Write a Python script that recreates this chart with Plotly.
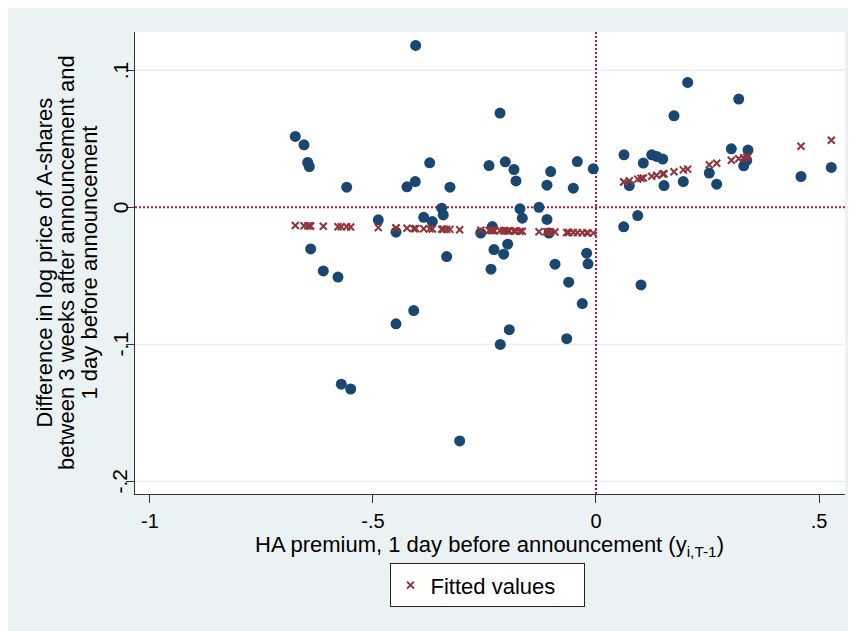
import plotly.graph_objects as go

# HA premium (x) and change in log A-share price (y) for each event
x_vals = [-0.4043, -0.6742, -0.6547, -0.6464, -0.6428, -0.5590, -0.4238, -0.4052, -0.3729, -0.3274,
          -0.3460, -0.3424, -0.3863, -0.3670, -0.4881, -0.4484, -0.6397, -0.6114, -0.5785, -0.3348,
          -0.4087, -0.4484, -0.5711, -0.5500, -0.3056, -0.2152, -0.2399, -0.2034, -0.1839, -0.1794,
          -0.1016, -0.1099, -0.0419, -0.0509, -0.0061, -0.1704, -0.1652, -0.1278, -0.1099, -0.2325,
          -0.2585, -0.1054, -0.1980, -0.2287, -0.2070, -0.2354, -0.0919, -0.0612, -0.0209, -0.0179,
          -0.0307, -0.1944, -0.2146, -0.0657, 0.2056, 0.3200, 0.1749, 0.0628, 0.1249, 0.1361,
          0.1496, 0.1061, 0.3034, 0.3408, 0.3379, 0.3312, 0.2540, 0.2706, 0.1957, 0.1525,
          0.0747, 0.4596, 0.5276, 0.0935, 0.0621, 0.1009]
y_vals = [0.1181, 0.0517, 0.0456, 0.0327, 0.0298, 0.0147, 0.0150, 0.0188, 0.0325, 0.0147,
          -0.0006, -0.0055, -0.0073, -0.0104, -0.0091, -0.0181, -0.0303, -0.0464, -0.0509, -0.0359,
          -0.0753, -0.0850, -0.1290, -0.1325, -0.1704, 0.0688, 0.0305, 0.0332, 0.0276, 0.0193,
          0.0261, 0.0162, 0.0334, 0.0140, 0.0281, -0.0011, -0.0079, 0.0000, -0.0088, -0.0140,
          -0.0188, -0.0188, -0.0269, -0.0308, -0.0342, -0.0451, -0.0415, -0.0546, -0.0334, -0.0412,
          -0.0702, -0.0892, -0.1000, -0.0958, 0.0911, 0.0790, 0.0668, 0.0383, 0.0383, 0.0371,
          0.0352, 0.0323, 0.0427, 0.0418, 0.0342, 0.0303, 0.0250, 0.0169, 0.0188, 0.0159,
          0.0159, 0.0225, 0.0291, -0.0060, -0.0142, -0.0566]
fitted_vals = [-0.0155, -0.0133, -0.0134, -0.0135, -0.0135, -0.0142, -0.0153, -0.0155, -0.0157, -0.0161,
               -0.0160, -0.0160, -0.0156, -0.0158, -0.0148, -0.0151, -0.0136, -0.0138, -0.0141, -0.0161,
               -0.0155, -0.0151, -0.0141, -0.0143, -0.0163, -0.0170, -0.0168, -0.0171, -0.0173, -0.0173,
               -0.0180, -0.0179, -0.0185, -0.0184, -0.0188, -0.0174, -0.0174, -0.0178, -0.0179, -0.0169,
               -0.0167, -0.0179, -0.0172, -0.0169, -0.0171, -0.0169, -0.0180, -0.0183, -0.0186, -0.0187,
               -0.0185, -0.0172, -0.0170, -0.0183, 0.0279, 0.0354, 0.0259, 0.0186, 0.0227, 0.0234,
               0.0243, 0.0214, 0.0343, 0.0368, 0.0366, 0.0362, 0.0311, 0.0322, 0.0273, 0.0245,
               0.0194, 0.0446, 0.0490, 0.0206, 0.0186, 0.0211]

x_ticks = [-1, -0.5, 0, 0.5]
x_tick_text = ["-1", "-.5", "0", ".5"]
y_ticks = [-0.2, -0.1, 0, 0.1]
y_tick_text = ["-.2", "-.1", "0", ".1"]
y_grid = [-0.2, -0.1, 0.1]

FONT = "Liberation Sans, Arial, sans-serif"
BG = "#EAF2F3"
NAVY = "#1A476F"
MAROON = "#90353B"
RED = "#C8143C"

fig = go.Figure()
fig.add_trace(go.Scatter(x=x_vals, y=y_vals, mode="markers", showlegend=False,
                         marker=dict(color=NAVY, size=11, line=dict(width=0))))
fig.add_trace(go.Scatter(x=x_vals, y=fitted_vals, mode="markers", name="Fitted values",
                         marker=dict(symbol="x-thin", size=7, color=MAROON,
                                     line=dict(color=MAROON, width=2))))

shapes = []
for g in y_grid:
    shapes.append(dict(type="line", xref="paper", yref="y", x0=0, x1=1, y0=g, y1=g,
                       line=dict(color="#E6EEF1", width=1.5), layer="below"))
shapes += [
    dict(type="line", xref="paper", yref="y", x0=0, x1=1, y0=0, y1=0,
         line=dict(color=RED, width=2, dash="2px,2px"), layer="below"),
    dict(type="line", xref="x", yref="paper", x0=0, x1=0, y0=0, y1=1,
         line=dict(color=RED, width=2, dash="2px,2px"), layer="below"),
]

annotations = []
# y tick labels (rotated, close to the axis)
for v, t in zip(y_ticks, y_tick_text):
    annotations.append(dict(text=t, xref="paper", yref="y", x=(120 - 135) / 710, y=v,
                            xanchor="center", yanchor="middle", textangle=-90, showarrow=False,
                            font=dict(family=FONT, size=21, color="black")))

ytitle_lines = ["Difference in log price of A-shares",
                "between 3 weeks after announcement and",
                "1 day before announcement"]
ytitle_px = [43.5, 66, 88.5]
for line, px in zip(ytitle_lines, ytitle_px):
    annotations.append(dict(text=line, xref="paper", yref="paper", x=(px - 135) / 710, y=0.5,
                            xanchor="center", yanchor="middle", textangle=-90, showarrow=False,
                            font=dict(family=FONT, size=22, color="black")))
annotations.append(dict(text="HA premium, 1 day before announcement (y<sub>i,T-1</sub>)",
                        xref="paper", yref="paper", x=0.4986, y=-0.1125,
                        xanchor="center", yanchor="middle", showarrow=False,
                        font=dict(family=FONT, size=22, color="black")))

fig.update_layout(
    width=848, height=623,
    margin=dict(l=127, r=11, t=24, b=137),
    paper_bgcolor=BG, plot_bgcolor="white",
    font=dict(family=FONT, size=21, color="black"),
    shapes=shapes, annotations=annotations,
    showlegend=True,
    legend=dict(x=0.4958, y=-0.15, xanchor="center", yanchor="top",
                orientation="h", entrywidth=148, entrywidthmode="pixels",
                bgcolor="white", bordercolor="#222", borderwidth=1,
                font=dict(family=FONT, size=22, color="black")),
    xaxis=dict(range=[-1.0336, 0.5583], tickvals=x_ticks, ticktext=x_tick_text,
               showgrid=False, zeroline=False, showline=True, linecolor="#333", linewidth=1,
               ticks="outside", ticklen=8, tickcolor="#333", tickwidth=1,
               ticklabelstandoff=1, automargin=False,
               tickfont=dict(family=FONT, size=20, color="black")),
    yaxis=dict(range=[-0.2091, 0.1279], tickvals=y_ticks, showticklabels=False,
               showgrid=False, zeroline=False,
               showline=True, linecolor="#333", linewidth=1, automargin=False,
               ticks="outside", ticklen=8, tickcolor="#333", tickwidth=1),
)

fig.write_html("out.html")
